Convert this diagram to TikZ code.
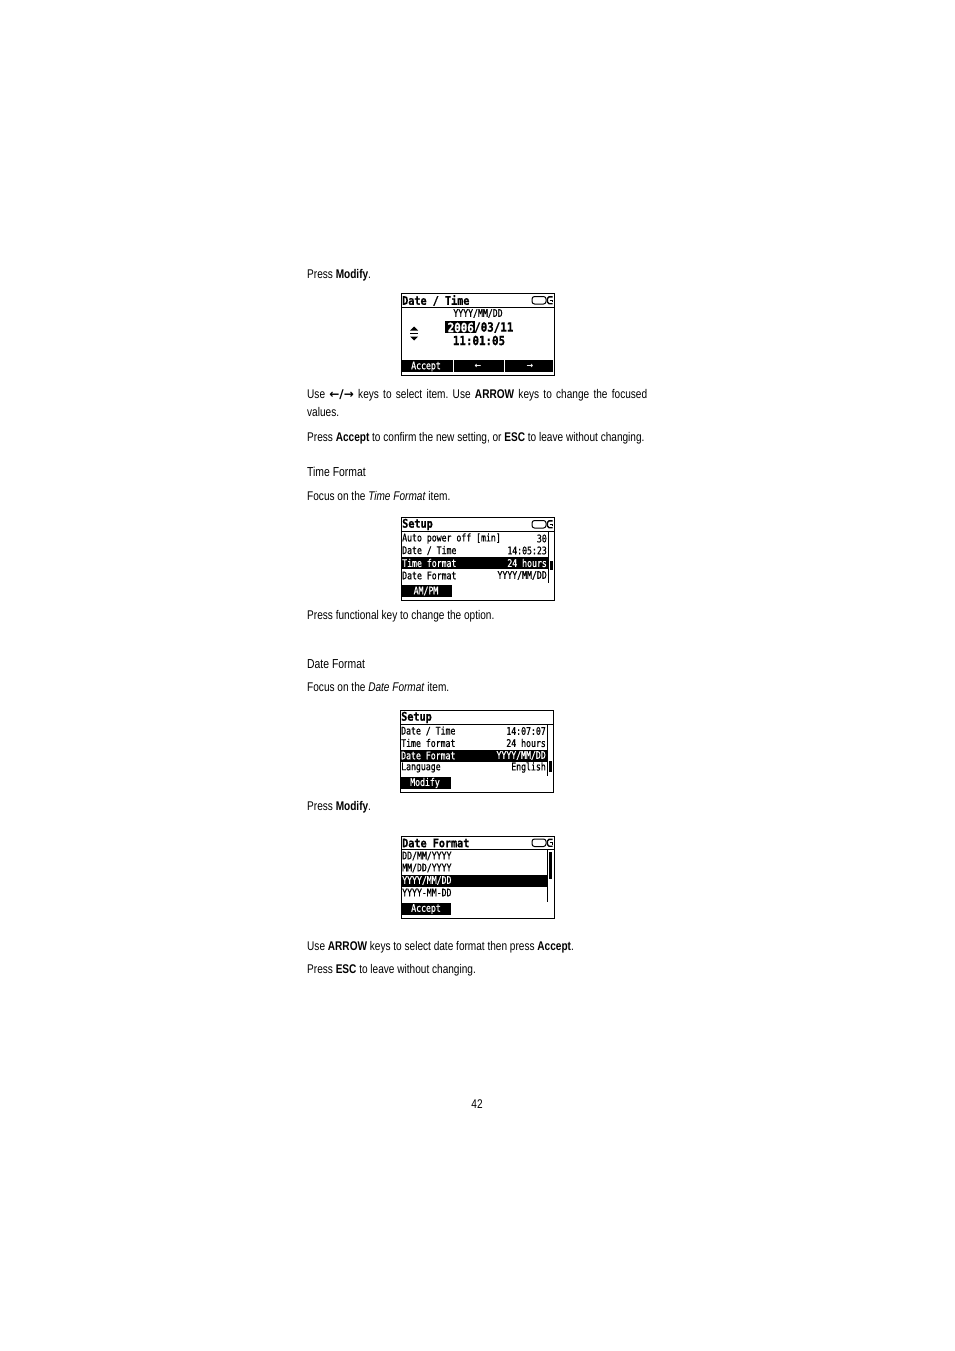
\documentclass[tikz,border=0pt]{standalone}
\usepackage{fontspec}
\setmainfont[FakeStretch=0.8]{Liberation Sans}
\newfontfamily\lcd[FakeStretch=0.78,FakeBold=0.7]{DejaVu Sans Mono}
\newfontfamily\lcdw[FakeStretch=0.86,FakeBold=0.7]{DejaVu Sans Mono}
\newfontfamily\sym{DejaVu Sans}
\frenchspacing
\begin{document}
\begin{tikzpicture}[x=1pt,y=-1pt]
\tikzset{
  txt/.style={anchor=west,inner sep=0pt,font=\fontsize{12.6}{18.5}\selectfont},
  lcdtxt/.style={inner sep=0pt,font=\lcd\fontsize{10.5}{11}\selectfont},
  lcdtitle/.style={anchor=west,inner sep=0pt,font=\lcdw\bfseries\fontsize{11.8}{12}\selectfont},
  lcdbig/.style={inner sep=0pt,font=\lcdw\bfseries\fontsize{12.6}{13}\selectfont},
  screen/.style={draw=black,line width=0.8pt},
  bar/.style={fill=black,draw=none},
  inv/.style={text=white}
}
\useasboundingbox (0,0) rectangle (954,1351);
\fill[white] (0,0) rectangle (954,1351);

% ---------- text ----------
\node[txt] (t1) at (307,275) {Press \textbf{Modify}.};
\node[txt,anchor=north west,text width=340pt,align=justify] (t2) at (307,389)
  {\hyphenpenalty=10000 Use {\sym\fontsize{12}{12}\selectfont\bfseries ←/→} keys to select item. Use \textbf{ARROW} keys to change the focused \mbox{values.}};
\node[txt] (t3) at (307,438) {Press \textbf{Accept} to confirm the new setting, or \textbf{ESC} to leave without changing.};
\node[txt,font=\fontsize{13}{15}\selectfont] (h1) at (307,472) {Time Format};
\node[txt] (t4) at (307,496) {Focus on the \textit{Time Format} item.};
\node[txt] (t5) at (307,616) {Press functional key to change the option.};
\node[txt,font=\fontsize{13}{15}\selectfont] (h2) at (307,664) {Date Format};
\node[txt] (t6) at (307,687) {Focus on the \textit{Date Format} item.};
\node[txt] (t7) at (307,807) {Press \textbf{Modify}.};
\node[txt] (t8) at (307,947) {Use \textbf{ARROW} keys to select date format then press \textbf{Accept}.};
\node[txt] (t9) at (307,970) {Press \textbf{ESC} to leave without changing.};
\node[txt,anchor=center] (pg) at (477,1104) {42};

% ---------- icon macro ----------
\newcommand{\plugicon}[2]{%
  \draw[line width=1pt,rounded corners=2.5pt] (#1,#2) rectangle ++(14,7.5);
  \draw[line width=1.4pt,rounded corners=1.5pt] (#1+20.5,#2+0.3) -- (#1+15.5,#2+0.3) -- (#1+15.5,#2+7.2) -- (#1+20.5,#2+7.2);
  \draw[line width=1.1pt] (#1+17.5,#2+3.75) -- (#1+20.5,#2+3.75) -- (#1+20.5,#2+5.5);
}

% ---------- screen 1: Date / Time ----------
\draw[screen] (401,293) rectangle (554,375);
\node[lcdtitle] (s1t) at (402,300.5) {Date / Time};
\plugicon{532}{296.5}
\draw[line width=0.8pt] (401,307.5) -- (554,307.5);
\node[lcdtxt] (s1a) at (478,313.5) {YYYY/MM/DD};
\fill[black] (445,321) rectangle (474.5,333);
\node[lcdbig,inv,anchor=east] (s1y) at (474,327.5) {2006};
\node[lcdbig,anchor=west] (s1d) at (474,327.5) {/03/11};
\node[lcdbig] (s1h) at (479,340.5) {11:01:05};
\fill[black] (410,330.5) -- (418,330.5) -- (414,326.5) -- cycle;
\fill[black] (410,336.5) -- (418,336.5) -- (414,340.5) -- cycle;
\draw[line width=0.6pt] (410,333.5) -- (418,333.5);
\fill[bar] (402,360) rectangle (553,372);
\draw[white,line width=1pt] (453.5,360) -- (453.5,372);
\draw[white,line width=1pt] (504.5,360) -- (504.5,372);
\node[lcdtxt,inv] (s1b1) at (426,366.5) {Accept};
\node[lcdtxt,inv,font=\sym\bfseries\fontsize{8}{9}\selectfont] (s1b2) at (478,366) {←};
\node[lcdtxt,inv,font=\sym\bfseries\fontsize{8}{9}\selectfont] (s1b3) at (530,366) {→};

% ---------- screen 2: Setup (time format) ----------
\draw[screen] (401,517.5) rectangle (554,600.5);
\node[lcdtitle] (s2t) at (402,524.5) {Setup};
\plugicon{532}{520.5}
\draw[line width=0.8pt] (401,531.5) -- (554,531.5);
\draw[line width=0.8pt] (548.5,531.5) -- (548.5,583);
\fill[black] (549.5,561) rectangle (552.5,570);
\node[lcdtxt,anchor=west] (s2r1) at (402,538.5) {Auto power off [min]};
\node[lcdtxt,anchor=east] (s2v1) at (547,538.5) {30};
\node[lcdtxt,anchor=west] (s2r2) at (402,550.5) {Date / Time};
\node[lcdtxt,anchor=east] (s2v2) at (547,550.5) {14:05:23};
\fill[bar] (401.5,557) rectangle (547.5,569);
\node[lcdtxt,inv,anchor=west] (s2r3) at (402,563) {Time format};
\node[lcdtxt,inv,anchor=east] (s2v3) at (547,563) {24 hours};
\node[lcdtxt,anchor=west] (s2r4) at (402,575.5) {Date Format};
\node[lcdtxt,anchor=east] (s2v4) at (547,575.5) {YYYY/MM/DD};
\fill[bar] (402,585) rectangle (452,597);
\node[lcdtxt,inv] (s2b) at (426,591) {AM/PM};

% ---------- screen 3: Setup (date format) ----------
\draw[screen] (400,710.5) rectangle (553,792.5);
\node[lcdtitle] (s3t) at (401,717.5) {Setup};
\draw[line width=0.8pt] (400,724.5) -- (553,724.5);
\draw[line width=0.8pt] (547.5,724.5) -- (547.5,776);
\fill[black] (548.5,761) rectangle (551.5,772);
\node[lcdtxt,anchor=west] (s3r1) at (401,731) {Date / Time};
\node[lcdtxt,anchor=east] (s3v1) at (546,731) {14:07:07};
\node[lcdtxt,anchor=west] (s3r2) at (401,743) {Time format};
\node[lcdtxt,anchor=east] (s3v2) at (546,743) {24 hours};
\fill[bar] (400.5,749.5) rectangle (546.5,761.5);
\node[lcdtxt,inv,anchor=west] (s3r3) at (401,755.5) {Date Format};
\node[lcdtxt,inv,anchor=east] (s3v3) at (546,755.5) {YYYY/MM/DD};
\node[lcdtxt,anchor=west] (s3r4) at (401,767.5) {Language};
\node[lcdtxt,anchor=east] (s3v4) at (546,767.5) {English};
\fill[bar] (401,777) rectangle (451,789);
\node[lcdtxt,inv] (s3b) at (425,783) {Modify};

% ---------- screen 4: Date Format ----------
\draw[screen] (401,836.5) rectangle (554,918);
\node[lcdtitle] (s4t) at (402,843) {Date Format};
\plugicon{532}{839}
\draw[line width=0.8pt] (401,849.5) -- (554,849.5);
\draw[line width=0.8pt] (547.5,849.5) -- (547.5,902);
\fill[black] (548.5,852) rectangle (551.5,879);
\node[lcdtxt,anchor=west] (s4r1) at (402,856) {DD/MM/YYYY};
\node[lcdtxt,anchor=west] (s4r2) at (402,868) {MM/DD/YYYY};
\fill[bar] (401.5,874.5) rectangle (547,886.5);
\node[lcdtxt,inv,anchor=west] (s4r3) at (402,880.5) {YYYY/MM/DD};
\node[lcdtxt,anchor=west] (s4r4) at (402,892.5) {YYYY-MM-DD};
\fill[bar] (402,903) rectangle (451,915);
\node[lcdtxt,inv] (s4b) at (426,909) {Accept};
\end{tikzpicture}
\end{document}
